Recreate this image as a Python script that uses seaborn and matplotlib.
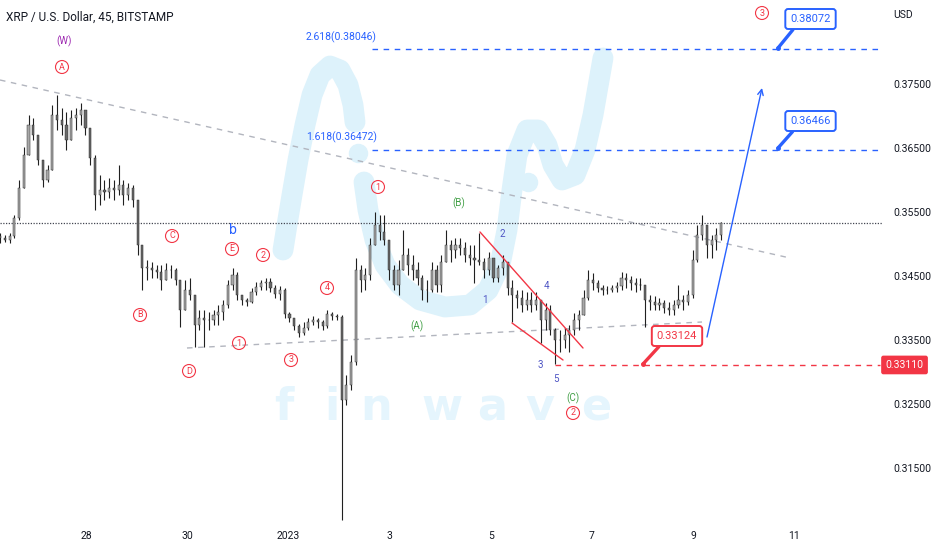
import numpy as np
import pandas as pd
import matplotlib
matplotlib.use("Agg")
import matplotlib.pyplot as plt
from matplotlib import font_manager
import seaborn as sns

bar_start = "2022-12-26 07:15"
bar_freq = "135min"
first_open = 0.3513

highs = [
    .3517, .3514, .3517, .3545, .3600, .3652, .3702, .3697, .3670, .3631,
    .3623, .3717, .3733, .3713, .3706, .3709, .3713, .3720, .3709, .3681,
    .3639, .3608, .3600, .3603, .3600, .3623, .3600, .3595, .3592, .3569,
    .3498, .3475, .3472, .3467, .3467, .3470, .3467, .3463, .3444, .3444,
    .3447, .3420, .3397, .3397, .3394, .3397, .3405, .3413, .3444, .3463,
    .3456, .3420, .3416, .3431, .3441, .3444, .3447, .3447, .3436, .3434,
    .3431, .3394, .3384, .3375, .3378, .3384, .3388, .3384, .3381, .3397,
    .3394, .3391, .3389, .3295, .3327, .3478, .3467, .3463, .3509, .3550,
    .3545, .3545, .3506, .3467, .3475, .3522, .3494, .3483, .3472, .3452,
    .3444, .3472, .3467, .3483, .3522, .3506, .3509, .3509, .3503, .3498,
    .3498, .3517, .3478, .3488, .3478, .3467, .3483, .3472, .3444, .3428,
    .3428, .3425, .3425, .3425, .3413, .3408, .3405, .3369, .3366, .3369,
    .3373, .3392, .3397, .3428, .3459, .3455, .3444, .3436, .3434, .3436,
    .3441, .3456, .3455, .3450, .3447, .3447, .3436, .3420, .3419, .3416,
    .3413, .3409, .3413, .3436, .3420, .3428, .3491, .3530, .3545, .3530,
    .3514, .3525, .3534,
]
lows = [
    .3502, .3503, .3502, .3509, .3538, .3588, .3639, .3663, .3623, .3589,
    .3597, .3616, .3678, .3670, .3647, .3663, .3678, .3686, .3670, .3623,
    .3553, .3561, .3569, .3572, .3569, .3577, .3561, .3569, .3558, .3483,
    .3428, .3444, .3447, .3447, .3428, .3444, .3447, .3436, .3370, .3397,
    .3413, .3339, .3366, .3339, .3366, .3373, .3373, .3381, .3400, .3428,
    .3413, .3405, .3403, .3408, .3420, .3428, .3428, .3425, .3416, .3413,
    .3384, .3378, .3366, .3355, .3358, .3366, .3373, .3369, .3366, .3369,
    .3381, .3381, .3069, .3248, .3272, .3311, .3425, .3428, .3444, .3498,
    .3506, .3498, .3444, .3428, .3420, .3459, .3452, .3444, .3436, .3413,
    .3409, .3425, .3425, .3425, .3472, .3472, .3478, .3483, .3472, .3467,
    .3439, .3467, .3447, .3452, .3441, .3441, .3452, .3420, .3378, .3400,
    .3394, .3397, .3394, .3397, .3345, .3366, .3358, .3312, .3331, .3338,
    .3331, .3358, .3366, .3389, .3413, .3428, .3425, .3420, .3422, .3425,
    .3425, .3428, .3431, .3428, .3425, .3428, .3370, .3397, .3397, .3397,
    .3392, .3389, .3389, .3400, .3397, .3405, .3416, .3472, .3506, .3478,
    .3478, .3491, .3506,
]
closes = [
    .3509, .3506, .3513, .3541, .3588, .3639, .3686, .3670, .3631, .3600,
    .3616, .3702, .3694, .3686, .3663, .3697, .3702, .3709, .3681, .3634,
    .3577, .3584, .3581, .3588, .3584, .3592, .3577, .3588, .3569, .3498,
    .3463, .3463, .3459, .3456, .3444, .3459, .3459, .3444, .3397, .3428,
    .3420, .3373, .3384, .3381, .3381, .3389, .3394, .3405, .3436, .3452,
    .3420, .3413, .3409, .3425, .3433, .3439, .3441, .3431, .3422, .3428,
    .3391, .3384, .3372, .3361, .3369, .3378, .3381, .3378, .3372, .3391,
    .3388, .3386, .3256, .3280, .3316, .3459, .3444, .3452, .3498, .3530,
    .3519, .3506, .3459, .3436, .3459, .3483, .3467, .3459, .3447, .3428,
    .3428, .3459, .3436, .3472, .3498, .3491, .3498, .3494, .3483, .3478,
    .3475, .3472, .3459, .3478, .3447, .3463, .3472, .3431, .3420, .3416,
    .3405, .3413, .3405, .3413, .3381, .3397, .3366, .3350, .3350, .3358,
    .3366, .3381, .3389, .3416, .3444, .3439, .3431, .3428, .3428, .3431,
    .3434, .3447, .3444, .3439, .3436, .3436, .3413, .3409, .3405, .3408,
    .3400, .3397, .3405, .3413, .3409, .3420, .3475, .3514, .3530, .3498,
    .3506, .3514, .3533,
]

date_ticks = [0, 2, 4, 6, 8, 10, 12, 14]  # days after 2022-12-28
date_labels = ["28", "30", "2023", "3", "5", "7", "9", "11"]
price_ticks = [0.315, 0.325, 0.335, 0.345, 0.355, 0.365, 0.375]

fib_levels = [0.36472, 0.38046]
fib_names = ["1.618(0.36472)", "2.618(0.38046)"]
target_names = ["0.36466", "0.38072"]
stop_level = 0.33110
wave_low_name = "0.33124"
last_price = 0.3533

blue = "#2962ff"
red = "#f23645"
green = "#43a047"
purple = "#9c27b0"
indigo = "#4e55c4"
wm = "#ddf2fb"

sns.set_theme(style="white")
names = {f.name for f in font_manager.fontManager.ttflist}
base_font = "Liberation Sans Narrow" if "Liberation Sans Narrow" in names else "Roboto"
plt.rcParams["font.family"] = [base_font, "DejaVu Sans"]

W, H = 932, 550
fig = plt.figure(figsize=(W / 100, H / 100), dpi=100)
ax = fig.add_axes([0, 29 / H, 882 / W, 521 / H])


# chart pixel -> (day, price), used only to place drawings and labels
def px(x, y):
    return (x - 86) / 50.6, 0.388125 - y / 6400


ax.set_xlim(px(0, 0)[0], px(882, 0)[0])
ax.set_ylim(px(0, 521)[1], px(0, 0)[1])

# watermark
wm_a = [(283, 250), (287, 225), (292, 195), (298, 160), (305, 125), (312, 95),
        (320, 75), (330, 66), (340, 70), (348, 85), (353, 105), (355, 122)]
wm_b = [(364, 182), (368, 210), (375, 240), (385, 265), (400, 285), (420, 300),
        (445, 307), (470, 305), (488, 290), (500, 265), (507, 230), (512, 190),
        (517, 155), (527, 130), (538, 130), (547, 145), (553, 165), (562, 180),
        (575, 175), (585, 150), (593, 115), (603, 58)]
for seg in (wm_a, wm_b):
    xs, ys = zip(*[px(x, y) for x, y in seg])
    ax.plot(xs, ys, color=wm, lw=15, solid_capstyle="round",
            solid_joinstyle="round", zorder=0)
for x, y in [(358, 153), (528, 182)]:
    ax.plot(*px(x, y), "o", ms=13, color=wm, zorder=0)
for ch, x in zip("finwave", [284, 332, 376, 442, 492, 540, 596]):
    ax.text(*px(x, 408), ch, fontsize=32, fontweight="bold", color="#e5f5fd",
            ha="center", va="center", zorder=0, family="DejaVu Sans")

# candles
times = pd.date_range(bar_start, periods=len(closes), freq=bar_freq)
days = np.asarray((times - pd.Timestamp("2022-12-28")) / pd.Timedelta(days=1))
c = np.array(closes)
o = np.array([first_open] + closes[:-1])
step = days[1] - days[0]
up = c >= o
ax.vlines(days, lows, highs, color="#202020", lw=0.8, zorder=3)
ax.bar(days, np.maximum(np.abs(c - o), 0.00006), bottom=np.minimum(o, c),
       width=step * 0.45, color=np.where(up, "#a8a8a8", "#6a6a6a"),
       edgecolor="#202020", linewidth=0.3, zorder=4)

# trend lines
ax.plot(*zip(px(0, 80), px(790, 258)), color="#b2b5be", lw=1, ls=(0, (4, 4)), zorder=2)
ax.plot(*zip(px(187, 348), px(702, 322)), color="#b2b5be", lw=1, ls=(0, (4, 4)), zorder=2)
ax.axhline(last_price, color="#434651", lw=0.9, ls=(0, (1, 1.2)), zorder=2)

# ending diagonal
ax.plot(*zip(px(480, 232), px(583, 348)), color=red, lw=1, zorder=5)
ax.plot(*zip(px(512, 323), px(563, 360)), color=red, lw=1, zorder=5)

# fib extensions
x_end = px(880, 0)[0]
for lvl, name, yl in zip(fib_levels, fib_names, [137, 37]):
    ax.plot([px(372, 0)[0], x_end], [lvl, lvl], color=blue, lw=1, ls=(0, (4, 4)), zorder=2)
    ax.text(*px(306, yl), name, color=blue, fontsize=7.5, ha="left", va="center")

# stop line
ax.plot([px(555, 0)[0], x_end], [stop_level, stop_level], color=red, lw=1,
        ls=(0, (4, 4)), zorder=2)

# projected path
ax.annotate("", xy=px(762, 88), xytext=px(707, 337),
            arrowprops=dict(arrowstyle="->", color=blue, lw=1, shrinkA=0,
                            shrinkB=0, mutation_scale=10))

# callouts
for name, (bx, by), (tx, ty) in zip(target_names, [(810.5, 121), (810.5, 19)],
                                    [(778, 148), (778, 48)]):
    ax.annotate(name, xy=px(tx, ty), xytext=px(bx, by), ha="center", va="center",
                color=blue, fontsize=8,
                bbox=dict(boxstyle="round,pad=0.45,rounding_size=0.25", fc="white",
                          ec=blue, lw=1.4),
                arrowprops=dict(arrowstyle="-", color=blue, lw=2.4, shrinkA=0,
                                shrinkB=0, relpos=(0.18, 0)), zorder=6)
    ax.plot(*px(tx, ty), "o", ms=2.5, color=blue, zorder=6)
ax.annotate(wave_low_name, xy=px(643, 364), xytext=px(677, 336), ha="center",
            va="center", color=red, fontsize=8,
            bbox=dict(boxstyle="round,pad=0.45,rounding_size=0.25", fc="white",
                      ec=red, lw=1.4),
            arrowprops=dict(arrowstyle="-", color=red, lw=2.4, shrinkA=0,
                            shrinkB=0, relpos=(0.18, 0)), zorder=6)
ax.plot(*px(643, 364), "o", ms=2.5, color=red, zorder=6)


# wave labels
def circled(x, y, s):
    ax.text(*px(x, y), s, color=red, fontsize=6.5, ha="center", va="center",
            bbox=dict(boxstyle="circle,pad=0.22", fc="none", ec=red, lw=0.8), zorder=6)


for s, x, y in [("A", 62, 67), ("B", 140, 315), ("C", 172, 236), ("D", 189, 371),
                ("E", 232, 249), ("2", 263, 255), ("1", 239, 343), ("3", 291, 360),
                ("4", 327, 288), ("1", 378, 187), ("2", 573, 413), ("3", 762, 13)]:
    circled(x, y, s)

ax.text(*px(64, 41), "(W)", color=purple, fontsize=7, ha="center", va="center")
ax.text(*px(233, 230), "b", color=blue, fontsize=10, ha="center", va="center")
for s, x, y in [("(B)", 459, 203), ("(A)", 417, 326), ("(C)", 573, 398)]:
    ax.text(*px(x, y), s, color=green, fontsize=7, ha="center", va="center")
for s, x, y in [("1", 485, 300), ("2", 502, 234), ("3", 540, 365), ("4", 546, 286),
                ("5", 556, 379)]:
    ax.text(*px(x, y), s, color=indigo, fontsize=7, ha="center", va="center")

# axes
ax.yaxis.tick_right()
ax.set_yticks(price_ticks)
ax.set_yticklabels([f"{v:.5f}" for v in price_ticks])
ax.set_xticks(date_ticks)
ax.set_xticklabels(date_labels)
ax.tick_params(axis="y", length=0, pad=8, labelsize=7.5, labelcolor="#131722")
ax.tick_params(axis="x", length=0, pad=7, labelsize=7.5, labelcolor="#131722")
sns.despine(ax=ax, left=True, bottom=True, right=True, top=True)
ax.grid(False)

ax.text(1.004, stop_level, "0.33110", transform=ax.get_yaxis_transform(),
        ha="left", va="center", color="white", fontsize=7.5, clip_on=False,
        bbox=dict(boxstyle="round,pad=0.35,rounding_size=0.15", fc=red, ec=red))
fig.text(893 / W, 1 - 15 / H, "USD", fontsize=7.5, color="#131722", va="center")
fig.text(6 / W, 1 - 17 / H, "XRP / U.S. Dollar, 45, BITSTAMP", fontsize=8.5,
         color="#131722", va="center")

fig.savefig("out.png", dpi=100, facecolor="white")
